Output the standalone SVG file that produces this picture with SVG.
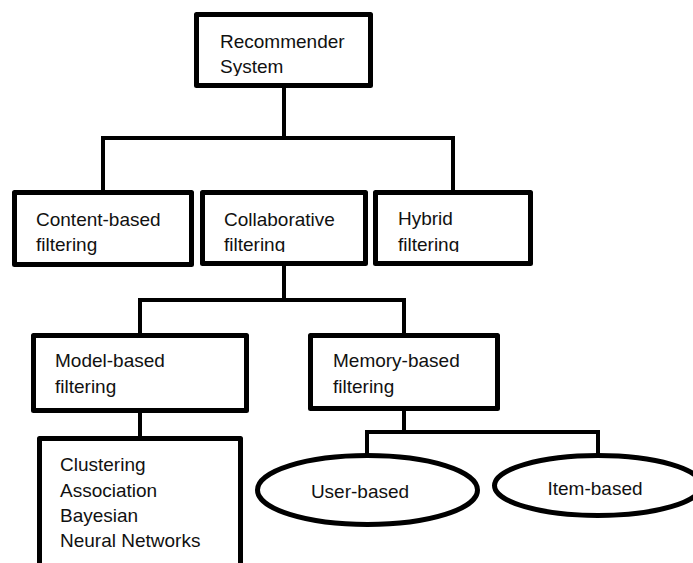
<svg xmlns="http://www.w3.org/2000/svg" width="693" height="563" viewBox="0 0 693 563">
<style>
.box{fill:#fff;stroke:#000;stroke-width:5;stroke-linejoin:round}
.ell{fill:#fff;stroke:#000;stroke-width:5}
.conn{fill:none;stroke:#000;stroke-width:4;stroke-linejoin:miter}
text{font-family:"Liberation Sans",Arial,sans-serif;font-size:19px;fill:#111}
</style>
<defs>
<clipPath id="c1"><rect x="196" y="14" width="175" height="62"/></clipPath>
<clipPath id="c2"><rect x="202" y="192" width="164" height="60"/></clipPath>
<clipPath id="c3"><rect x="375" y="192" width="156" height="60"/></clipPath>
</defs>
<rect width="693" height="563" fill="#fff"/>
<g id="connectors">
<polyline class="conn" points="284,88 284,138"/>
<polyline class="conn" points="103,190 103,138 453,138 453,190"/>
<polyline class="conn" points="284,266 284,300"/>
<polyline class="conn" points="140,333 140,300 404,300 404,333"/>
<polyline class="conn" points="140,413 140,437"/>
<polyline class="conn" points="404,411 404,432"/>
<polyline class="conn" points="367,455 367,432 598,432 598,455"/>
</g>
<g id="recommender">
<rect class="box" x="196.5" y="14.5" width="174" height="71"/>
<g clip-path="url(#c1)"><text x="220" y="48">Recommender</text><text x="220" y="73">System</text></g>
</g>
<g id="content">
<rect class="box" x="14.5" y="192.5" width="177" height="72"/>
<text x="36" y="226">Content-based</text><text x="36" y="251">filtering</text>
</g>
<g id="collaborative">
<rect class="box" x="202.5" y="192.5" width="163" height="71"/>
<g clip-path="url(#c2)"><text x="224" y="226">Collaborative</text><text x="224" y="251">filtering</text></g>
</g>
<g id="hybrid">
<rect class="box" x="375.5" y="192.5" width="155" height="71"/>
<g clip-path="url(#c3)"><text x="398" y="225">Hybrid</text><text x="398" y="251">filtering</text></g>
</g>
<g id="model">
<rect class="box" x="33.5" y="335.5" width="213" height="75"/>
<text x="55" y="367">Model-based</text><text x="55" y="393">filtering</text>
</g>
<g id="memory">
<rect class="box" x="310.5" y="335.5" width="187" height="73"/>
<text x="333" y="367">Memory-based</text><text x="333" y="393">filtering</text>
</g>
<g id="algorithms">
<rect class="box" x="39.5" y="438.5" width="201" height="140"/>
<text x="60" y="471">Clustering</text>
<text x="60" y="497">Association</text>
<text x="60" y="522">Bayesian</text>
<text x="60" y="547">Neural Networks</text>
</g>
<g id="user">
<ellipse class="ell" cx="367.5" cy="490" rx="110" ry="34.5"/>
<text x="360" y="498" text-anchor="middle">User-based</text>
</g>
<g id="item">
<ellipse class="ell" cx="598" cy="485.5" rx="103.5" ry="30"/>
<text x="595" y="495" text-anchor="middle">Item-based</text>
</g>
</svg>
